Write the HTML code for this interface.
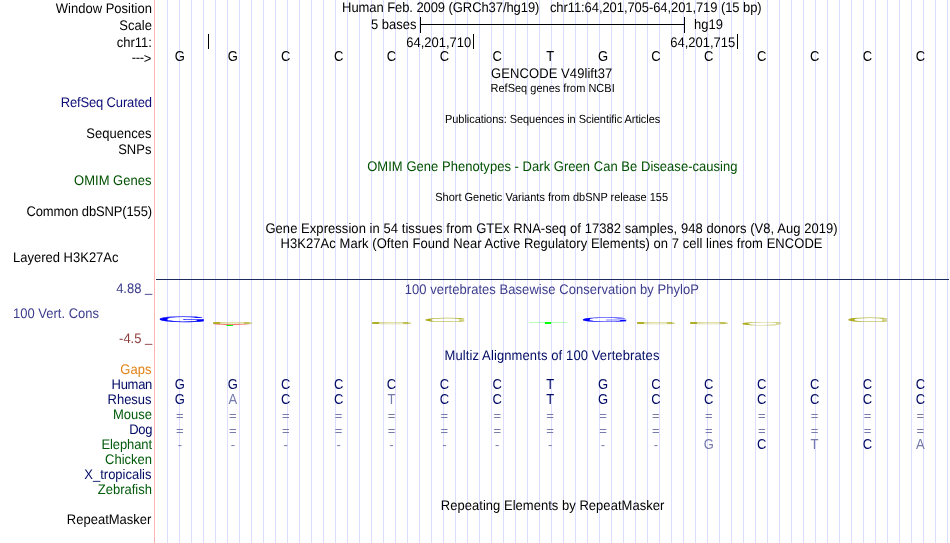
<!DOCTYPE html>
<html lang="en"><head><meta charset="utf-8"><title>UCSC Genome Browser - hg19 chr11:64,201,705-64,201,719</title>
<style>
html,body{margin:0;padding:0;background:#fff;}
svg{display:block;font-family:"Liberation Sans",sans-serif;font-size:13px;}
.gp{text-rendering:geometricPrecision;}
.s{font-size:11px;}
.e{text-anchor:end;}
.m{text-anchor:middle;}
.g rect{fill:#dcdcff;}
.nv{fill:#000a64;}
.gr{fill:#005a0a;}
.om{fill:#005000;}
.lt{fill:#767bab;}
.rs{fill:#0c0c78;}
.pp{fill:#3c3c8c;}
.pn{fill:#8c3c3c;}
.or{fill:#e08214;}
.lg{font-size:20.48px;}
</style></head><body>
<svg width="950" height="543" viewBox="0 0 950 543">
<rect x="0" y="0" width="950" height="543" fill="#fff"/>
<g class="g" shape-rendering="crispEdges">
<rect x="167" y="0" width="1" height="543"/>
<rect x="179" y="0" width="1" height="543"/>
<rect x="191" y="0" width="1" height="543"/>
<rect x="203" y="0" width="1" height="543"/>
<rect x="215" y="0" width="1" height="543"/>
<rect x="227" y="0" width="1" height="543"/>
<rect x="239" y="0" width="1" height="543"/>
<rect x="251" y="0" width="1" height="543"/>
<rect x="263" y="0" width="1" height="543"/>
<rect x="275" y="0" width="1" height="543"/>
<rect x="287" y="0" width="1" height="543"/>
<rect x="299" y="0" width="1" height="543"/>
<rect x="311" y="0" width="1" height="543"/>
<rect x="323" y="0" width="1" height="543"/>
<rect x="335" y="0" width="1" height="543"/>
<rect x="347" y="0" width="1" height="543"/>
<rect x="359" y="0" width="1" height="543"/>
<rect x="371" y="0" width="1" height="543"/>
<rect x="383" y="0" width="1" height="543"/>
<rect x="395" y="0" width="1" height="543"/>
<rect x="407" y="0" width="1" height="543"/>
<rect x="419" y="0" width="1" height="543"/>
<rect x="431" y="0" width="1" height="543"/>
<rect x="443" y="0" width="1" height="543"/>
<rect x="455" y="0" width="1" height="543"/>
<rect x="467" y="0" width="1" height="543"/>
<rect x="479" y="0" width="1" height="543"/>
<rect x="491" y="0" width="1" height="543"/>
<rect x="503" y="0" width="1" height="543"/>
<rect x="515" y="0" width="1" height="543"/>
<rect x="527" y="0" width="1" height="543"/>
<rect x="539" y="0" width="1" height="543"/>
<rect x="551" y="0" width="1" height="543"/>
<rect x="563" y="0" width="1" height="543"/>
<rect x="575" y="0" width="1" height="543"/>
<rect x="587" y="0" width="1" height="543"/>
<rect x="599" y="0" width="1" height="543"/>
<rect x="611" y="0" width="1" height="543"/>
<rect x="623" y="0" width="1" height="543"/>
<rect x="635" y="0" width="1" height="543"/>
<rect x="647" y="0" width="1" height="543"/>
<rect x="659" y="0" width="1" height="543"/>
<rect x="671" y="0" width="1" height="543"/>
<rect x="683" y="0" width="1" height="543"/>
<rect x="695" y="0" width="1" height="543"/>
<rect x="707" y="0" width="1" height="543"/>
<rect x="719" y="0" width="1" height="543"/>
<rect x="731" y="0" width="1" height="543"/>
<rect x="743" y="0" width="1" height="543"/>
<rect x="755" y="0" width="1" height="543"/>
<rect x="767" y="0" width="1" height="543"/>
<rect x="779" y="0" width="1" height="543"/>
<rect x="791" y="0" width="1" height="543"/>
<rect x="803" y="0" width="1" height="543"/>
<rect x="815" y="0" width="1" height="543"/>
<rect x="827" y="0" width="1" height="543"/>
<rect x="839" y="0" width="1" height="543"/>
<rect x="851" y="0" width="1" height="543"/>
<rect x="863" y="0" width="1" height="543"/>
<rect x="875" y="0" width="1" height="543"/>
<rect x="887" y="0" width="1" height="543"/>
<rect x="899" y="0" width="1" height="543"/>
<rect x="911" y="0" width="1" height="543"/>
<rect x="923" y="0" width="1" height="543"/>
<rect x="935" y="0" width="1" height="543"/>
<rect x="947" y="0" width="1" height="543"/>
</g>
<rect x="154" y="0" width="1" height="543" fill="#ffb4b4" shape-rendering="crispEdges"/>
<g fill="#000" shape-rendering="crispEdges">
<rect x="420" y="17" width="1" height="16"/>
<rect x="684" y="17" width="1" height="16"/>
<rect x="420" y="24" width="265" height="1"/>
<rect x="208" y="34" width="1" height="15"/>
<rect x="473" y="34" width="1" height="15"/>
<rect x="737" y="34" width="1" height="15"/>
</g>
<rect x="156" y="279" width="793" height="1" fill="#1c2a5e" shape-rendering="crispEdges"/>
<g fill="#a0a000" shape-rendering="crispEdges">
<rect x="214" y="322" width="37" height="2" fill-opacity="0.2"/>
<rect x="213" y="322" width="7" height="2" fill-opacity="0.7"/>
<rect x="244" y="322" width="5" height="2" fill-opacity="0.45"/>
<rect x="249" y="323" width="3" height="1" fill-opacity="0.3"/>
<rect x="373" y="322" width="37" height="2" fill-opacity="0.2"/>
<rect x="372" y="322" width="7" height="2" fill-opacity="0.7"/>
<rect x="403" y="322" width="5" height="2" fill-opacity="0.45"/>
<rect x="408" y="323" width="3" height="1" fill-opacity="0.3"/>
<rect x="638" y="322" width="36" height="2" fill-opacity="0.2"/>
<rect x="637" y="322" width="7" height="2" fill-opacity="0.7"/>
<rect x="667" y="322" width="5" height="2" fill-opacity="0.45"/>
<rect x="672" y="323" width="3" height="1" fill-opacity="0.3"/>
<rect x="691" y="322" width="36" height="2" fill-opacity="0.2"/>
<rect x="690" y="322" width="7" height="2" fill-opacity="0.7"/>
<rect x="720" y="322" width="5" height="2" fill-opacity="0.45"/>
<rect x="725" y="323" width="3" height="1" fill-opacity="0.3"/>
<rect x="459" y="319" width="5" height="2" fill-opacity="0.4"/>
<rect x="882" y="319" width="5" height="2" fill-opacity="0.4"/>
<rect x="776" y="323" width="5" height="1" fill-opacity="0.4"/>
</g>
<g class="lg gp">
<text transform="matrix(3.2087 0 0 0.3931 156.90 321.62)" fill="#0000ff" stroke="#0000ff" stroke-width="0.45" vector-effect="non-scaling-stroke">G</text>
<text transform="matrix(3.1149 0 0 -0.1517 209.96 321.93)" fill="#a0a000" fill-opacity="0.4">C</text>
<text transform="matrix(2.8351 0 0 -0.0710 211.89 323.90)" fill="#ff0000">A</text>
<text transform="matrix(3.2383 0 0 -0.0710 209.51 324.90)" fill="#00ff00">T</text>
<text transform="matrix(3.0840 0 0 -0.1586 369.29 321.73)" fill="#a0a000" fill-opacity="0.4">C</text>
<text transform="matrix(3.1072 0 0 0.2897 421.97 322.04)" fill="#a0a000" fill-opacity="0.85">C</text>
<text transform="matrix(3.2815 0 0 0.1419 527.49 324.00)" fill="#00ff00">T</text>
<text transform="matrix(3.2087 0 0 0.3310 579.80 321.73)" fill="#0000ff" stroke="#0000ff" stroke-width="0.25" vector-effect="non-scaling-stroke">G</text>
<text transform="matrix(3.0146 0 0 -0.1586 633.56 321.83)" fill="#a0a000" fill-opacity="0.4">C</text>
<text transform="matrix(3.0224 0 0 -0.1586 686.66 321.83)" fill="#a0a000" fill-opacity="0.4">C</text>
<text transform="matrix(3.1149 0 0 -0.2345 738.76 321.65)" fill="#a0a000" fill-opacity="0.85">C</text>
<text transform="matrix(3.0918 0 0 0.3172 844.98 322.24)" fill="#a0a000" fill-opacity="0.85">C</text>
</g>
<g class="gp" transform="scale(1 1.07)">
<text class="e" x="151.9" y="12.15">Window Position</text>
<text class="e" x="151.9" y="28.04">Scale</text>
<text class="e" x="151.9" y="43.93">chr11:</text>
<text class="e" x="151.4" y="58.88"><tspan dy="-0.95" letter-spacing="-0.35">---</tspan><tspan dy="0.95">&gt;</tspan></text>
<text x="342.1" y="11.21" textLength="419.6" xml:space="preserve">Human Feb. 2009 (GRCh37/hg19)   chr11:64,201,705-64,201,719 (15 bp)</text>
<text class="e" x="416.5" y="27.10">5 bases</text>
<text x="694" y="27.10">hg19</text>
<text class="e" x="471.3" y="43.93">64,201,710</text>
<text class="e" x="735.3" y="43.93">64,201,715</text>
<text x="491.1" y="72.90" textLength="121.2" xml:space="preserve">GENCODE V49lift37</text>
<text class="s" x="490.5" y="85.98" textLength="124.2" xml:space="preserve">RefSeq genes from NCBI</text>
<text class="e rs" x="151.8" y="100.00" letter-spacing="-0.15">RefSeq Curated</text>
<text class="s" x="445.0" y="114.95" textLength="215.2" xml:space="preserve">Publications: Sequences in Scientific Articles</text>
<text class="e" x="151.4" y="128.97">Sequences</text>
<text class="e" x="151.4" y="143.93">SNPs</text>
<text class="om" x="367.2" y="159.81" textLength="370.3" xml:space="preserve">OMIM Gene Phenotypes - Dark Green Can Be Disease-causing</text>
<text class="e om" x="151.4" y="172.90">OMIM Genes</text>
<text class="s" x="435.2" y="187.85" textLength="232.8" xml:space="preserve">Short Genetic Variants from dbSNP release 155</text>
<text class="e" x="152.0" y="201.87" letter-spacing="-0.14">Common dbSNP(155)</text>
<text x="265.4" y="217.76" textLength="572.2" xml:space="preserve">Gene Expression in 54 tissues from GTEx RNA-seq of 17382 samples, 948 donors (V8, Aug 2019)</text>
<text x="280.6" y="231.78" textLength="541.9" xml:space="preserve">H3K27Ac Mark (Often Found Near Active Regulatory Elements) on 7 cell lines from ENCODE</text>
<text x="13" y="244.86">Layered H3K27Ac</text>
<text class="e pp" x="152.3" y="273.83">4.88 <tspan dy="-0.93">_</tspan></text>
<text class="pp" x="404.8" y="274.77" textLength="294.2" xml:space="preserve">100 vertebrates Basewise Conservation by PhyloP</text>
<text class="pp" x="13" y="297.20">100 Vert. Cons</text>
<text class="e pn" x="152.3" y="320.56">-4.5 <tspan dy="-0.93">_</tspan></text>
<text class="nv" x="444.5" y="336.45" textLength="214.9" xml:space="preserve">Multiz Alignments of 100 Vertebrates</text>
<text class="e or" x="151.4" y="349.53">Gaps</text>
<text class="e nv" x="152.0" y="363.55" letter-spacing="-0.3">Human</text>
<text class="e nv" x="151.6" y="377.57">Rhesus</text>
<text class="e gr" x="152.0" y="391.59">Mouse</text>
<text class="e nv" x="152.0" y="405.61" letter-spacing="-0.4">Dog</text>
<text class="e gr" x="152.0" y="419.63" letter-spacing="-0.1">Elephant</text>
<text class="e gr" x="152.0" y="433.64">Chicken</text>
<text class="e nv" x="151.5" y="447.66">X_tropicalis</text>
<text class="e gr" x="152.0" y="461.68">Zebrafish</text>
<text x="440.8" y="476.64" textLength="223.5" xml:space="preserve">Repeating Elements by RepeatMasker</text>
<text class="e" x="151.4" y="489.72">RepeatMasker</text>
</g>
<g class="m" transform="scale(1 1.08)">
<text x="179.9" y="56.48">G</text>
<text x="232.8" y="56.48">G</text>
<text x="285.7" y="56.48">C</text>
<text x="338.6" y="56.48">C</text>
<text x="391.5" y="56.48">C</text>
<text x="444.4" y="56.48">C</text>
<text x="497.2" y="56.48">C</text>
<text x="550.1" y="56.48">T</text>
<text x="603.0" y="56.48">G</text>
<text x="655.9" y="56.48">C</text>
<text x="708.8" y="56.48">C</text>
<text x="761.7" y="56.48">C</text>
<text x="814.6" y="56.48">C</text>
<text x="867.5" y="56.48">C</text>
<text x="920.4" y="56.48">C</text>
<text class="nv" x="179.9" y="360.19">G</text>
<text class="nv" x="232.8" y="360.19">G</text>
<text class="nv" x="285.7" y="360.19">C</text>
<text class="nv" x="338.6" y="360.19">C</text>
<text class="nv" x="391.5" y="360.19">C</text>
<text class="nv" x="444.4" y="360.19">C</text>
<text class="nv" x="497.2" y="360.19">C</text>
<text class="nv" x="550.1" y="360.19">T</text>
<text class="nv" x="603.0" y="360.19">G</text>
<text class="nv" x="655.9" y="360.19">C</text>
<text class="nv" x="708.8" y="360.19">C</text>
<text class="nv" x="761.7" y="360.19">C</text>
<text class="nv" x="814.6" y="360.19">C</text>
<text class="nv" x="867.5" y="360.19">C</text>
<text class="nv" x="920.4" y="360.19">C</text>
<text class="nv" x="179.9" y="374.07">G</text>
<text class="lt" x="232.8" y="374.07">A</text>
<text class="nv" x="285.7" y="374.07">C</text>
<text class="nv" x="338.6" y="374.07">C</text>
<text class="lt" x="391.5" y="374.07">T</text>
<text class="nv" x="444.4" y="374.07">C</text>
<text class="nv" x="497.2" y="374.07">C</text>
<text class="nv" x="550.1" y="374.07">T</text>
<text class="nv" x="603.0" y="374.07">G</text>
<text class="nv" x="655.9" y="374.07">C</text>
<text class="nv" x="708.8" y="374.07">C</text>
<text class="nv" x="761.7" y="374.07">C</text>
<text class="nv" x="814.6" y="374.07">C</text>
<text class="nv" x="867.5" y="374.07">C</text>
<text class="nv" x="920.4" y="374.07">C</text>
<text class="lt" x="708.8" y="415.74">G</text>
<text class="nv" x="761.7" y="415.74">C</text>
<text class="lt" x="814.6" y="415.74">T</text>
<text class="nv" x="867.5" y="415.74">C</text>
<text class="lt" x="920.4" y="415.74">A</text>
</g>
<g class="m lt">
<text x="179.9" y="420">=</text>
<text x="232.8" y="420">=</text>
<text x="285.7" y="420">=</text>
<text x="338.6" y="420">=</text>
<text x="391.5" y="420">=</text>
<text x="444.4" y="420">=</text>
<text x="497.2" y="420">=</text>
<text x="550.1" y="420">=</text>
<text x="603.0" y="420">=</text>
<text x="655.9" y="420">=</text>
<text x="708.8" y="420">=</text>
<text x="761.7" y="420">=</text>
<text x="814.6" y="420">=</text>
<text x="867.5" y="420">=</text>
<text x="920.4" y="420">=</text>
<text x="179.9" y="435">=</text>
<text x="232.8" y="435">=</text>
<text x="285.7" y="435">=</text>
<text x="338.6" y="435">=</text>
<text x="391.5" y="435">=</text>
<text x="444.4" y="435">=</text>
<text x="497.2" y="435">=</text>
<text x="550.1" y="435">=</text>
<text x="603.0" y="435">=</text>
<text x="655.9" y="435">=</text>
<text x="708.8" y="435">=</text>
<text x="761.7" y="435">=</text>
<text x="814.6" y="435">=</text>
<text x="867.5" y="435">=</text>
<text x="920.4" y="435">=</text>
<text x="179.9" y="449">-</text>
<text x="232.8" y="449">-</text>
<text x="285.7" y="449">-</text>
<text x="338.6" y="449">-</text>
<text x="391.5" y="449">-</text>
<text x="444.4" y="449">-</text>
<text x="497.2" y="449">-</text>
<text x="550.1" y="449">-</text>
<text x="603.0" y="449">-</text>
<text x="655.9" y="449">-</text>
</g>
</svg></body></html>
